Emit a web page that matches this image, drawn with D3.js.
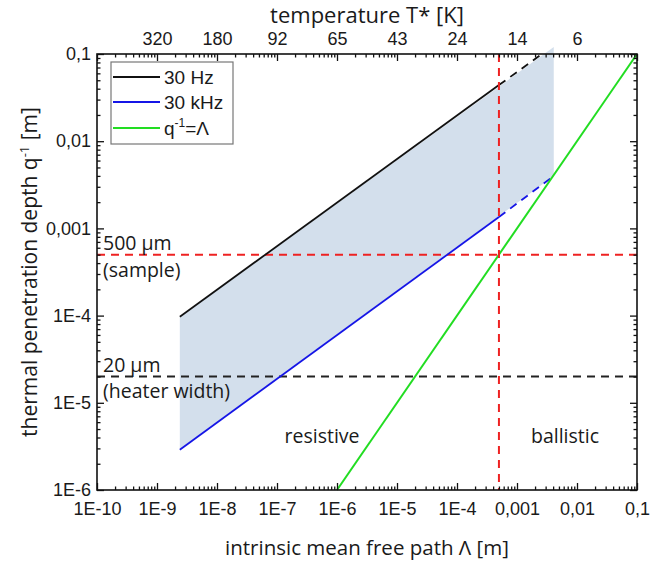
<!DOCTYPE html>
<html>
<head>
<meta charset="utf-8">
<script src="https://cdn.jsdelivr.net/npm/d3@7"></script>
<style>
  html, body { margin: 0; padding: 0; background: #fff; }
  svg { display: block; }
  text { font-family: "Open Sans", "Noto Sans", sans-serif; fill: #1a1a1a; }
  .arial { font-family: "Liberation Sans", Arial, sans-serif; }
</style>
</head>
<body>
<svg id="chart" width="651" height="565"></svg>
<script>
// ---- data ----
const xTickValues = [1e-10, 1e-9, 1e-8, 1e-7, 1e-6, 1e-5, 1e-4, 1e-3, 1e-2, 1e-1];
const xTickLabels = ["1E-10", "1E-9", "1E-8", "1E-7", "1E-6", "1E-5", "1E-4", "0,001", "0,01", "0,1"];
const yTickValues = [1e-6, 1e-5, 1e-4, 1e-3, 1e-2, 1e-1];
const yTickLabels = ["1E-6", "1E-5", "1E-4", "0,001", "0,01", "0,1"];
const topTickValues = [1e-9, 1e-8, 1e-7, 1e-6, 1e-5, 1e-4, 1e-3, 1e-2];
const topTickLabels = ["320", "180", "92", "65", "43", "24", "14", "6"];

// 30 Hz penetration depth (Lambda [m], q^-1 [m])
const hz30Solid = [[2.4e-9, 9.7e-5], [5e-4, 0.044]];
const hz30Dashed = [[5e-4, 0.044], [2.6e-3, 0.1]];
// 30 kHz penetration depth
const khz30Solid = [[2.4e-9, 2.9e-6], [5e-4, 1.35e-3]];
const khz30Dashed = [[5e-4, 1.35e-3], [4.1e-3, 4.0e-3]];
// q^-1 = Lambda
const identityLine = [[1e-6, 1e-6], [0.1, 0.1]];
// shaded region between 30 Hz and 30 kHz
const bandUpper = [[2.4e-9, 9.7e-5], [4.1e-3, 0.12]];
const bandLower = [[2.4e-9, 2.9e-6], [4.1e-3, 4.0e-3]];
// reference lines
const sampleSize = 5e-4;   // 500 um
const heaterWidth = 2e-5;  // 20 um
const crossoverLambda = 5e-4;

// ---- layout ----
const svg = d3.select("#chart");
const L = 97, R = 637, T = 54, B = 490;
const x = d3.scaleLog().domain([1e-10, 0.1]).range([L, R]);
const y = d3.scaleLog().domain([1e-6, 0.1]).range([B, T]);

function minors(decades) {
  const out = [];
  decades.forEach(d => { for (let k = 2; k <= 9; k++) out.push(k * d); });
  return out;
}
const xMinor = minors(xTickValues.slice(0, -1));
const yMinor = minors(yTickValues.slice(0, -1));

const line = d3.line().x(d => x(d[0])).y(d => y(d[1]));

// shaded band
const bandPoly = bandUpper.concat(bandLower.slice().reverse());
svg.append("path").attr("d", line(bandPoly) + "Z")
  .attr("fill", "#d3dfec").attr("stroke", "none");

// reference lines
svg.append("line").attr("x1", L).attr("x2", R).attr("y1", y(sampleSize)).attr("y2", y(sampleSize))
  .attr("stroke", "#ee2222").attr("stroke-width", 2).attr("stroke-dasharray", "8,6");
svg.append("line").attr("x1", L).attr("x2", R).attr("y1", y(heaterWidth)).attr("y2", y(heaterWidth))
  .attr("stroke", "#222").attr("stroke-width", 2).attr("stroke-dasharray", "8,6");

// curves
svg.append("path").attr("d", line(hz30Solid)).attr("fill", "none").attr("stroke", "#111").attr("stroke-width", 1.8);
svg.append("path").attr("d", line(hz30Dashed)).attr("fill", "none").attr("stroke", "#111").attr("stroke-width", 1.8).attr("stroke-dasharray", "8,6");
svg.append("path").attr("d", line(khz30Solid)).attr("fill", "none").attr("stroke", "#1515e6").attr("stroke-width", 1.8);
svg.append("path").attr("d", line(khz30Dashed)).attr("fill", "none").attr("stroke", "#1515e6").attr("stroke-width", 1.8).attr("stroke-dasharray", "8,6");
svg.append("path").attr("d", line(identityLine)).attr("fill", "none").attr("stroke", "#22dd22").attr("stroke-width", 2);

svg.append("line").attr("x1", x(crossoverLambda)).attr("x2", x(crossoverLambda)).attr("y1", T).attr("y2", B)
  .attr("stroke", "#ee2222").attr("stroke-width", 2).attr("stroke-dasharray", "8,6");

// axes
const fs = "18px";
function styleAxis(g) {
  g.select(".domain").remove();
  g.selectAll(".tick line").attr("stroke", "#111").attr("stroke-width", 1.3);
  g.selectAll(".tick text").style("font-size", fs).attr("fill", "#1a1a1a")
    .style("font-family", "'Liberation Sans', Arial, sans-serif");
}
// bottom
svg.append("g").attr("transform", `translate(0,${B})`)
  .call(d3.axisBottom(x).tickValues(xMinor).tickFormat("").tickSizeInner(-3.5).tickSizeOuter(0)).call(styleAxis);
svg.append("g").attr("transform", `translate(0,${B})`)
  .call(d3.axisBottom(x).tickValues(xTickValues).tickFormat((d, i) => xTickLabels[i]).tickSizeInner(-7).tickSizeOuter(0).tickPadding(12)).call(styleAxis);
// top
svg.append("g").attr("transform", `translate(0,${T})`)
  .call(d3.axisTop(x).tickValues(xMinor).tickFormat("").tickSizeInner(-3.5).tickSizeOuter(0)).call(styleAxis);
svg.append("g").attr("transform", `translate(0,${T})`)
  .call(d3.axisTop(x).tickValues(xTickValues).tickFormat("").tickSizeInner(-7).tickSizeOuter(0)).call(styleAxis);
svg.append("g").attr("transform", `translate(0,${T})`)
  .call(d3.axisTop(x).tickValues(topTickValues).tickFormat((d, i) => topTickLabels[i]).tickSizeInner(0).tickSizeOuter(0).tickPadding(9)).call(styleAxis);
// left
svg.append("g").attr("transform", `translate(${L},0)`)
  .call(d3.axisLeft(y).tickValues(yMinor).tickFormat("").tickSizeInner(-3.5).tickSizeOuter(0)).call(styleAxis);
svg.append("g").attr("transform", `translate(${L},0)`)
  .call(d3.axisLeft(y).tickValues(yTickValues).tickFormat((d, i) => yTickLabels[i]).tickSizeInner(-7).tickSizeOuter(0).tickPadding(6)).call(styleAxis);
// right
svg.append("g").attr("transform", `translate(${R},0)`)
  .call(d3.axisRight(y).tickValues(yMinor).tickFormat("").tickSizeInner(-3.5).tickSizeOuter(0)).call(styleAxis);
svg.append("g").attr("transform", `translate(${R},0)`)
  .call(d3.axisRight(y).tickValues(yTickValues).tickFormat("").tickSizeInner(-7).tickSizeOuter(0)).call(styleAxis);

// frame
svg.append("rect").attr("x", L).attr("y", T).attr("width", R - L).attr("height", B - T)
  .attr("fill", "none").attr("stroke", "#111").attr("stroke-width", 1.6);

// annotations
const annFs = "19.5px";
const ann = [
  { t: "500 µm", x: 103, y: 250 },
  { t: "(sample)", x: 103, y: 277 },
  { t: "20 µm", x: 103, y: 372 },
  { t: "(heater width)", x: 103, y: 398 }
];
ann.forEach(a => svg.append("text").attr("x", a.x).attr("y", a.y).style("font-size", annFs).text(a.t));
svg.append("text").attr("x", 322).attr("y", 443).attr("text-anchor", "middle").style("font-size", annFs).text("resistive");
svg.append("text").attr("x", 565).attr("y", 443).attr("text-anchor", "middle").style("font-size", annFs).text("ballistic");

// legend
const lg = svg.append("g");
lg.append("rect").attr("x", 111).attr("y", 62).attr("width", 122).attr("height", 82)
  .attr("fill", "#fff").attr("stroke", "#777").attr("stroke-width", 1.2);
const legendItems = [
  { c: "#111", y: 77 },
  { c: "#1515e6", y: 102 },
  { c: "#22dd22", y: 128 }
];
legendItems.forEach(it => lg.append("line").attr("x1", 113).attr("x2", 160).attr("y1", it.y).attr("y2", it.y)
  .attr("stroke", it.c).attr("stroke-width", 1.8));
lg.append("text").attr("class", "arial").attr("x", 164).attr("y", 84).style("font-size", "19px").text("30 Hz");
lg.append("text").attr("class", "arial").attr("x", 164).attr("y", 109).style("font-size", "19px").text("30 kHz");
const t3 = lg.append("text").attr("class", "arial").attr("x", 164).attr("y", 135).style("font-size", "19px");
t3.append("tspan").text("q");
t3.append("tspan").attr("dy", -8).style("font-size", "12px").text("-1");
t3.append("tspan").attr("dy", 8).text("=Λ");

// axis titles
svg.append("text").attr("x", 367).attr("y", 23).attr("text-anchor", "middle").style("font-size", "22px").text("temperature T* [K]");
svg.append("text").attr("x", 367).attr("y", 555).attr("text-anchor", "middle").style("font-size", "20.5px").text("intrinsic mean free path Λ [m]");
const yt = svg.append("text").attr("transform", "translate(37,272) rotate(-90)").attr("text-anchor", "middle").style("font-size", "21px");
yt.append("tspan").text("thermal penetration depth q");
yt.append("tspan").attr("dy", -8).style("font-size", "13px").text("-1");
yt.append("tspan").attr("dy", 8).text(" [m]");
</script>
</body>
</html>
